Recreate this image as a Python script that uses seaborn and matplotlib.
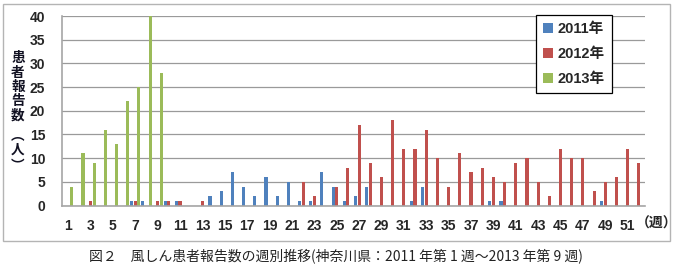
import numpy as np
import pandas as pd
import matplotlib
matplotlib.use("Agg")
import matplotlib.pyplot as plt
from matplotlib.patches import Rectangle
import seaborn as sns

# ---- data ----
weeks = list(range(1, 53))
years = ["2011年", "2012年", "2013年"]
colors = ["#4F81BD", "#C0504D", "#9BBB59"]

cases_2011 = {7: 1, 8: 1, 10: 1, 11: 1, 14: 2, 15: 3, 16: 7, 17: 4, 18: 2, 19: 6,
              20: 2, 21: 5, 22: 1, 23: 1, 24: 7, 25: 4, 26: 1, 27: 2, 28: 4,
              32: 1, 33: 4, 39: 1, 40: 1, 49: 1}
cases_2012 = {3: 1, 7: 1, 9: 1, 10: 1, 11: 1, 13: 1, 22: 5, 23: 2, 25: 4, 26: 8,
              27: 17, 28: 9, 29: 6, 30: 18, 31: 12, 32: 12, 33: 16, 34: 10, 35: 4,
              36: 11, 37: 7, 38: 8, 39: 6, 40: 5, 41: 9, 42: 10, 43: 5, 44: 2,
              45: 12, 46: 10, 47: 10, 48: 3, 49: 5, 50: 6, 51: 12, 52: 9}
cases_2013 = {1: 4, 2: 11, 3: 9, 4: 16, 5: 13, 6: 22, 7: 25, 8: 40, 9: 28}

y_ticks = [0, 5, 10, 15, 20, 25, 30, 35, 40]
x_tick_weeks = list(range(1, 53, 2))

ylabel_chars = ["患", "者", "報", "告", "数", "︵", "人", "︶"]
xlabel = "（週）"
caption = "図２　風しん患者報告数の週別推移(神奈川県：2011 年第 1 週～2013 年第 9 週)"

rows = []
for yr, d in zip(years, [cases_2011, cases_2012, cases_2013]):
    for w in weeks:
        rows.append({"week": w, "year": yr, "count": d.get(w, 0)})
df = pd.DataFrame(rows)

# ---- figure ----
sns.set_style("white")
plt.rcParams["font.family"] = ["Liberation Sans", "Noto Sans CJK JP"]

W, H = 677, 267
fig = plt.figure(figsize=(W / 100, H / 100), dpi=100)

# outer chart border
fig.patches.append(Rectangle((3 / W, 1 - 241 / H), 667 / W, 237 / H,
                             transform=fig.transFigure, fill=False,
                             edgecolor="#b4b4b4", linewidth=1.0))

ax = fig.add_axes([62 / W, 1 - 205.5 / H, (645 - 62) / W, (205.5 - 16) / H])

sns.barplot(data=df, x="week", y="count", hue="year", order=weeks,
            hue_order=years, palette=colors, saturation=1, width=0.97,
            gap=0.14, errorbar=None, linewidth=0, ax=ax)

ax.set_xlim(-0.55, 51.55)
ax.set_ylim(0, 40)
ax.set_yticks(y_ticks)
ax.set_yticklabels([str(v) for v in y_ticks], fontsize=10, fontweight="bold")
ax.set_xticks([w - 1 for w in x_tick_weeks])
ax.set_xticklabels([str(w) for w in x_tick_weeks], fontsize=10, fontweight="bold")
ax.tick_params(axis="y", length=0, pad=12)
ax.tick_params(axis="x", length=0, pad=10)
ax.set_xlabel("")
ax.set_ylabel("")

ax.grid(axis="y", color="#9a9a9a", linewidth=0.9)
ax.set_axisbelow(True)
for s in ["top", "right"]:
    ax.spines[s].set_visible(False)
for s in ["left", "bottom"]:
    ax.spines[s].set_color("#a6a6a6")
    ax.spines[s].set_linewidth(1.2)

# legend
handles, labels = ax.get_legend_handles_labels()
ax.legend(handles, labels, loc="upper left",
          bbox_to_anchor=(536 / W, 1 - 15 / H), bbox_transform=fig.transFigure,
          borderaxespad=0, frameon=True, fancybox=False, edgecolor="black",
          framealpha=1, handlelength=0.65, handleheight=0.65, handletextpad=0.3,
          labelspacing=0.75, borderpad=0.5,
          prop={"weight": "bold", "size": 10.5,
                "family": ["Liberation Sans", "Noto Sans CJK JP"]})
ax.get_legend().get_frame().set_linewidth(0.9)

# vertical y label (stacked characters)
ylabel_pos = [58, 72.5, 87, 101.5, 116, 135, 150, 165]
for ch, yp in zip(ylabel_chars, ylabel_pos):
    fig.text(18 / W, 1 - yp / H, ch, ha="center", va="center",
             fontsize=9.8, fontweight="bold", color="#111122",
             family=["Noto Sans CJK JP"])

fig.text(657 / W, 1 - 224 / H, xlabel, ha="center", va="center",
         fontsize=10, fontweight="bold", family=["Noto Sans CJK JP"])

fig.text(336 / W, 1 - 256 / H, caption, ha="center", va="center",
         fontsize=10, color="#222222", family=["Noto Sans CJK JP"])

fig.savefig("out.png", dpi=100)
